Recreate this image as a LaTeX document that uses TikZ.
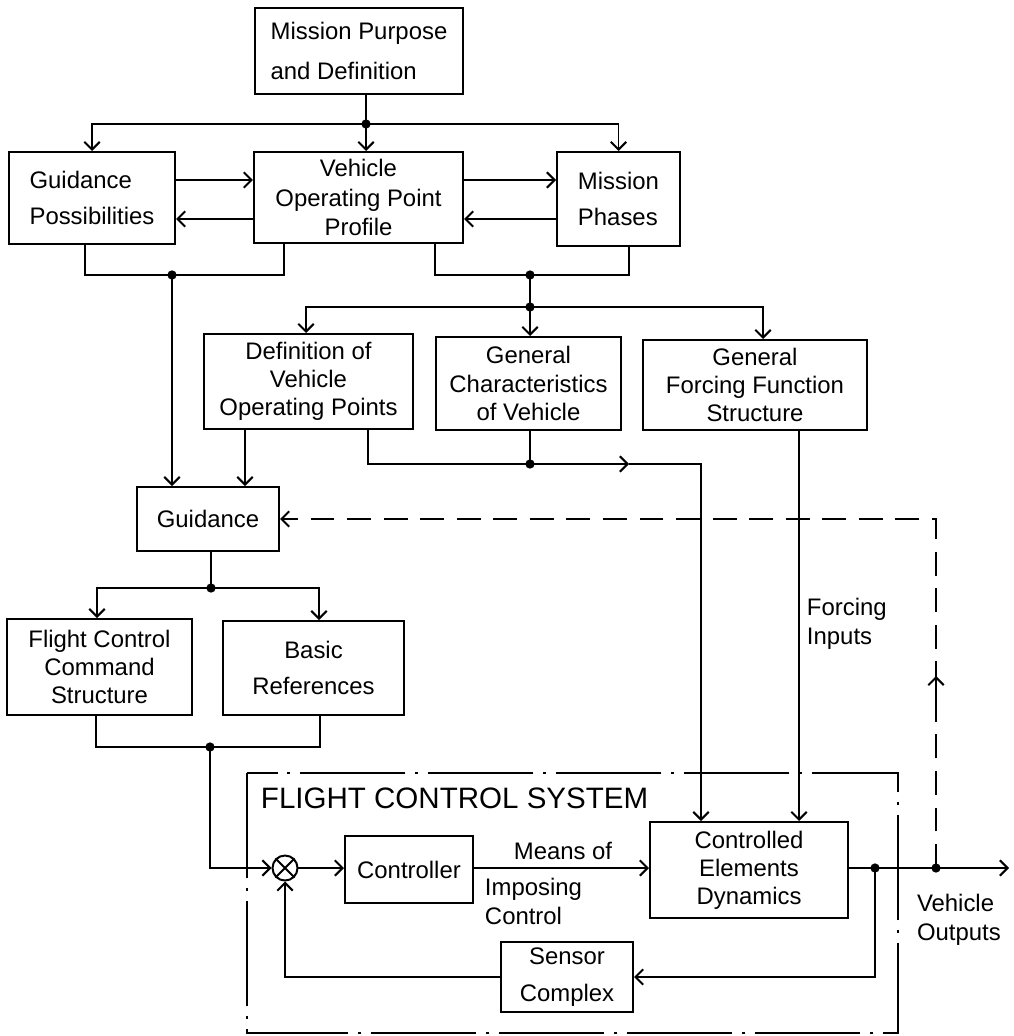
\documentclass[tikz,border=0pt]{standalone}
\usepackage{fontspec}
\setmainfont{Liberation Sans}
\usetikzlibrary{arrows.meta}

\begin{document}
\begin{tikzpicture}[x=0.025cm,y=-0.025cm,line width=1.4pt,
  >={Straight Barb[length=5.5pt,width=11pt]},
  box/.style={draw,rectangle,inner sep=2pt,align=center,font=\fontsize{17}{20}\selectfont},
  lbl/.style={align=left,inner sep=0pt,font=\fontsize{17}{21}\selectfont},
  dot/.style={radius=3.3pt}]
\useasboundingbox (0,0) rectangle (1013,1036);
%TOP BOXES
\node [box,align=left,minimum width=5.2cm,minimum height=2.15cm,font=\fontsize{17}{29}\selectfont] (mission) at (359,51) {Mission Purpose\\and Definition};
\node [box,align=left,minimum width=4.15cm,minimum height=2.3cm,font=\fontsize{17}{26}\selectfont] (guidpos) at (92,198) {Guidance\\Possibilities};
\node [box,minimum width=5.225cm,minimum height=2.275cm,font=\fontsize{17}{21}\selectfont] (vopp) at (358.5,197.5) {Vehicle\\Operating Point\\Profile};
\node [box,align=left,minimum width=3.075cm,minimum height=2.35cm,font=\fontsize{17}{26}\selectfont] (phases) at (618.5,199) {Mission\\Phases};
%SECOND ROW
\node [box,minimum width=5.225cm,minimum height=2.375cm] (defvop) at (308.5,381.5) {Definition of\\Vehicle\\Operating Points};
\node [box,minimum width=4.625cm,minimum height=2.325cm] (genchar) at (528.5,383.5) {General\\Characteristics\\of Vehicle};
\node [box,minimum width=5.6cm,minimum height=2.25cm] (genforce) at (755,385) {General\\Forcing Function\\Structure};
%GUIDANCE AND COMMANDS
\node [box,minimum width=3.55cm,minimum height=1.6cm] (guidance) at (208,519) {Guidance};
\node [box,minimum width=4.625cm,minimum height=2.4cm] (fccs) at (99.5,667) {Flight Control\\Command\\Structure};
\node [box,minimum width=4.525cm,minimum height=2.35cm,font=\fontsize{17}{26}\selectfont] (basicref) at (313.5,668) {Basic\\References};
%FLIGHT CONTROL SYSTEM
\draw [dash pattern=on 75pt off 7pt on 2pt off 7pt] (247,773) rectangle (898,1033);
\node [anchor=west,inner sep=0pt,font=\fontsize{21}{25}\selectfont] (fcstitle) at (260,798) {FLIGHT CONTROL SYSTEM};
\node [draw,circle,minimum size=0.625cm,inner sep=0pt] (sum) at (285,868) {};
\draw (sum.north east) -- (sum.south west) (sum.north west) -- (sum.south east);
\node [box,minimum width=3.2cm,minimum height=1.675cm] (controller) at (409,869.5) {Controller};
\node [box,minimum width=4.95cm,minimum height=2.4cm] (ced) at (749,870) {Controlled\\Elements\\Dynamics};
\node [box,minimum width=3.3cm,minimum height=1.75cm,font=\fontsize{17}{26}\selectfont] (sensor) at (567,977) {Sensor\\Complex};
%LABELS
\node [lbl] (means) at (563,851) {Means of};
\node [lbl,anchor=north west] (imposing) at (484,877) {Imposing\\Control};
\node [lbl,anchor=north west] (forcing) at (806,597) {Forcing\\Inputs};
\node [lbl,anchor=north west] (outputs) at (916,893) {Vehicle\\Outputs};
%JUNCTIONS
\coordinate (j1) at (366,124);
\coordinate (j2) at (172,275);
\coordinate (j3) at (530,275);
\coordinate (j4) at (530,307);
\coordinate (j5) at (530,464);
\coordinate (a1) at (629,464);
\coordinate (c1) at (701,464);
\coordinate (j6) at (211,588);
\coordinate (j8) at (210,747);
\coordinate (c2) at (210,868);
\coordinate (j9) at (875,868);
\coordinate (j7) at (936,868);
\coordinate (out) at (1009,868);
\foreach \j in {j1,j2,j3,j4,j5,j6,j8,j9,j7}
  \fill (\j) circle [dot];
%MISSION DISTRIBUTION
\draw (mission.south -| j1) -- (j1);
\draw [->] (j1) -- (vopp.north -| j1);
\draw [->] (j1) -| (guidpos.north);
\draw [->] (j1) -| (phases.north);
%CROSS LINKS
\draw [->] (guidpos.east |- 0,180) -- (vopp.west |- 0,180);
\draw [->] (vopp.west |- 0,219) -- (guidpos.east |- 0,219);
\draw [->] (vopp.east |- 0,180) -- (phases.west |- 0,180);
\draw [->] (phases.west |- 0,219) -- (vopp.east |- 0,219);
%COLLECTORS
\draw (guidpos.south -| 85,0) |- (j2) -| (vopp.south -| 284,0);
\draw (vopp.south -| 435,0) |- (j3) -| (phases.south -| 629,0);
\draw (j3) -- (j4);
\draw [->] (j4) -| (defvop.north -| 306,0);
\draw [->] (j4) -- (genchar.north -| j4);
\draw [->] (j4) -| (genforce.north -| 763,0);
\draw [->] (j2) -- (guidance.north -| j2);
\draw [->] (defvop.south -| 245,0) -- (guidance.north -| 245,0);
%OPERATING POINTS AND FORCING TO CONTROLLED ELEMENTS
\draw (defvop.south -| 368,0) |- (j5);
\draw (genchar.south -| j5) -- (j5);
\draw [->] (j5) -- (a1);
\draw [->] (a1) -- (c1) -- (ced.north -| c1);
\draw [->] (genforce.south -| 799,0) -- (ced.north -| 799,0);
%GUIDANCE TO COMMANDS
\draw (guidance.south -| j6) -- (j6);
\draw [->] (j6) -| (fccs.north -| 97,0);
\draw [->] (j6) -| (basicref.north -| 319,0);
\draw (fccs.south -| 96,0) |- (j8) -| (basicref.south -| 320,0);
\draw [->] (j8) -- (c2) -- (sum.west);
%LOOP
\draw [->] (sum.east) -- (controller.west |- sum.east);
\draw [->] (controller.east |- c2) -- (ced.west |- c2);
\draw [->] (ced.east |- j9) -- (out);
\draw [->] (j9) |- (sensor.east);
\draw [->] (sensor.west) -| (sum.south);
%FEEDBACK TO GUIDANCE
\draw [->,dash pattern=on 17pt off 9pt] (j7) |- (guidance.east);
\draw [->] (j7 |- 0,698) -- (j7 |- 0,676);
\end{tikzpicture}
\end{document}
